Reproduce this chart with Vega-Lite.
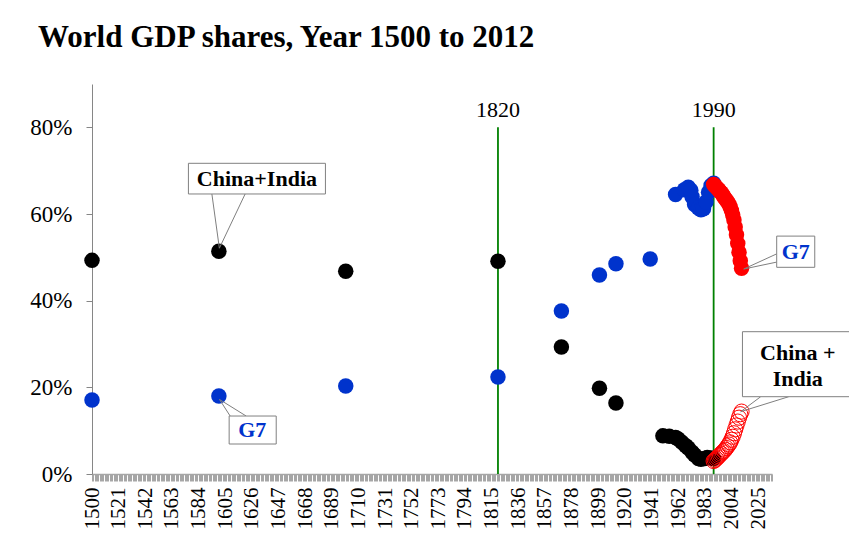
{
  "$schema": "https://vega.github.io/schema/vega-lite/v6.json",
  "width": 680,
  "height": 390,
  "autosize": {"type": "none"},
  "padding": {"left": 92, "top": 84, "right": 77, "bottom": 65},
  "background": "white",
  "view": {"stroke": null},
  "config": {"font": "Times New Roman, Liberation Serif, serif"},
  "title": {
    "text": "World GDP shares, Year 1500 to 2012",
    "anchor": "start",
    "frame": "group",
    "dx": -54,
    "offset": 30,
    "font": "Times New Roman, Liberation Serif, serif",
    "fontSize": 31,
    "fontWeight": "bold",
    "color": "#000000"
  },
  "datasets": {
    "points": [
      {"year": 1500, "share": 0.493, "group": "China+India"},
      {"year": 1600, "share": 0.514, "group": "China+India"},
      {"year": 1700, "share": 0.468, "group": "China+India"},
      {"year": 1820, "share": 0.491, "group": "China+India"},
      {"year": 1870, "share": 0.293, "group": "China+India"},
      {"year": 1900, "share": 0.198, "group": "China+India"},
      {"year": 1913, "share": 0.164, "group": "China+India"},
      {"year": 1950, "share": 0.088, "group": "China+India"},
      {"year": 1955, "share": 0.087, "group": "China+India"},
      {"year": 1960, "share": 0.084, "group": "China+India"},
      {"year": 1962, "share": 0.081, "group": "China+India"},
      {"year": 1965, "share": 0.073, "group": "China+India"},
      {"year": 1968, "share": 0.065, "group": "China+India"},
      {"year": 1970, "share": 0.060, "group": "China+India"},
      {"year": 1973, "share": 0.050, "group": "China+India"},
      {"year": 1975, "share": 0.044, "group": "China+India"},
      {"year": 1978, "share": 0.036, "group": "China+India"},
      {"year": 1980, "share": 0.034, "group": "China+India"},
      {"year": 1983, "share": 0.036, "group": "China+India"},
      {"year": 1985, "share": 0.038, "group": "China+India"},
      {"year": 1988, "share": 0.037, "group": "China+India"},
      {"year": 1990, "share": 0.036, "group": "China+India"},
      {"year": 1500, "share": 0.171, "group": "G7"},
      {"year": 1600, "share": 0.180, "group": "G7"},
      {"year": 1700, "share": 0.203, "group": "G7"},
      {"year": 1820, "share": 0.224, "group": "G7"},
      {"year": 1870, "share": 0.376, "group": "G7"},
      {"year": 1900, "share": 0.459, "group": "G7"},
      {"year": 1913, "share": 0.485, "group": "G7"},
      {"year": 1940, "share": 0.496, "group": "G7"},
      {"year": 1960, "share": 0.645, "group": "G7"},
      {"year": 1967, "share": 0.656, "group": "G7"},
      {"year": 1970, "share": 0.662, "group": "G7"},
      {"year": 1972, "share": 0.655, "group": "G7"},
      {"year": 1973, "share": 0.640, "group": "G7"},
      {"year": 1975, "share": 0.622, "group": "G7"},
      {"year": 1978, "share": 0.614, "group": "G7"},
      {"year": 1980, "share": 0.610, "group": "G7"},
      {"year": 1982, "share": 0.612, "group": "G7"},
      {"year": 1984, "share": 0.628, "group": "G7"},
      {"year": 1986, "share": 0.650, "group": "G7"},
      {"year": 1988, "share": 0.666, "group": "G7"},
      {"year": 1990, "share": 0.671, "group": "G7"},
      {"year": 1990, "share": 0.668, "group": "G7 1990-2012"},
      {"year": 1991, "share": 0.665, "group": "G7 1990-2012"},
      {"year": 1992, "share": 0.662, "group": "G7 1990-2012"},
      {"year": 1993, "share": 0.659, "group": "G7 1990-2012"},
      {"year": 1994, "share": 0.656, "group": "G7 1990-2012"},
      {"year": 1995, "share": 0.652, "group": "G7 1990-2012"},
      {"year": 1996, "share": 0.649, "group": "G7 1990-2012"},
      {"year": 1997, "share": 0.645, "group": "G7 1990-2012"},
      {"year": 1998, "share": 0.640, "group": "G7 1990-2012"},
      {"year": 1999, "share": 0.636, "group": "G7 1990-2012"},
      {"year": 2000, "share": 0.632, "group": "G7 1990-2012"},
      {"year": 2001, "share": 0.628, "group": "G7 1990-2012"},
      {"year": 2002, "share": 0.623, "group": "G7 1990-2012"},
      {"year": 2003, "share": 0.617, "group": "G7 1990-2012"},
      {"year": 2004, "share": 0.608, "group": "G7 1990-2012"},
      {"year": 2005, "share": 0.598, "group": "G7 1990-2012"},
      {"year": 2006, "share": 0.586, "group": "G7 1990-2012"},
      {"year": 2007, "share": 0.570, "group": "G7 1990-2012"},
      {"year": 2008, "share": 0.552, "group": "G7 1990-2012"},
      {"year": 2009, "share": 0.532, "group": "G7 1990-2012"},
      {"year": 2010, "share": 0.512, "group": "G7 1990-2012"},
      {"year": 2011, "share": 0.492, "group": "G7 1990-2012"},
      {"year": 2012, "share": 0.475, "group": "G7 1990-2012"},
      {"year": 1990, "share": 0.030, "group": "China+India 1990-2012"},
      {"year": 1991, "share": 0.032, "group": "China+India 1990-2012"},
      {"year": 1992, "share": 0.035, "group": "China+India 1990-2012"},
      {"year": 1993, "share": 0.038, "group": "China+India 1990-2012"},
      {"year": 1994, "share": 0.041, "group": "China+India 1990-2012"},
      {"year": 1995, "share": 0.044, "group": "China+India 1990-2012"},
      {"year": 1996, "share": 0.047, "group": "China+India 1990-2012"},
      {"year": 1997, "share": 0.050, "group": "China+India 1990-2012"},
      {"year": 1998, "share": 0.053, "group": "China+India 1990-2012"},
      {"year": 1999, "share": 0.056, "group": "China+India 1990-2012"},
      {"year": 2000, "share": 0.060, "group": "China+India 1990-2012"},
      {"year": 2001, "share": 0.064, "group": "China+India 1990-2012"},
      {"year": 2002, "share": 0.068, "group": "China+India 1990-2012"},
      {"year": 2003, "share": 0.073, "group": "China+India 1990-2012"},
      {"year": 2004, "share": 0.079, "group": "China+India 1990-2012"},
      {"year": 2005, "share": 0.086, "group": "China+India 1990-2012"},
      {"year": 2006, "share": 0.094, "group": "China+India 1990-2012"},
      {"year": 2007, "share": 0.103, "group": "China+India 1990-2012"},
      {"year": 2008, "share": 0.112, "group": "China+India 1990-2012"},
      {"year": 2009, "share": 0.121, "group": "China+India 1990-2012"},
      {"year": 2010, "share": 0.130, "group": "China+India 1990-2012"},
      {"year": 2011, "share": 0.138, "group": "China+India 1990-2012"},
      {"year": 2012, "share": 0.144, "group": "China+India 1990-2012"}
    ],
    "markers": [
      {"year": 1820, "top": 0.8, "label": "1820"},
      {"year": 1990, "top": 0.8, "label": "1990"}
    ],
    "boxes": [
      {"x1": 1576, "x2": 1684, "y1": 0.6462, "y2": 0.717},
      {"x1": 1608.1, "x2": 1645.2, "y1": 0.0692, "y2": 0.1338},
      {"x1": 2039.7, "x2": 2069.7, "y1": 0.477, "y2": 0.549},
      {"x1": 2012.7, "x2": 2110, "y1": 0.1784, "y2": 0.3284}
    ],
    "leaders": [
      {"x1": 1600.4, "y1": 0.521, "x2": 1594.5, "y2": 0.6462},
      {"x1": 1600.4, "y1": 0.521, "x2": 1620.7, "y2": 0.6462},
      {"x1": 1600.5, "y1": 0.172, "x2": 1608.9, "y2": 0.1338},
      {"x1": 1600.5, "y1": 0.172, "x2": 1621.5, "y2": 0.1338},
      {"x1": 2013.7, "y1": 0.473, "x2": 2039.7, "y2": 0.508},
      {"x1": 2013.7, "y1": 0.473, "x2": 2039.7, "y2": 0.489},
      {"x1": 2011.3, "y1": 0.1438, "x2": 2027.1, "y2": 0.1784},
      {"x1": 2011.3, "y1": 0.1438, "x2": 2049.2, "y2": 0.1784}
    ],
    "labels": [
      {"year": 1630, "share": 0.681, "text": "China+India", "series": "China+India"},
      {"year": 1626.3, "share": 0.1015, "text": "G7", "series": "G7"},
      {"year": 2054.7, "share": 0.512, "text": "G7", "series": "G7"},
      {"year": 2056.3, "share": 0.28, "text": "China +\nIndia", "series": "China+India"}
    ]
  },
  "layer": [
    {
      "data": {"name": "markers"},
      "mark": {"type": "rule", "color": "#008000", "strokeWidth": 1.8},
      "encoding": {
        "x": {
          "field": "year",
          "type": "quantitative",
          "scale": {"domain": [1500, 2036], "nice": false, "zero": false},
          "axis": {
            "title": null,
            "tickCount": 536,
            "labelExpr": "(datum.value - 1500) % 21 === 0 ? '' + datum.value : ''",
            "labelAngle": -90,
            "labelOverlap": false,
            "labelFlush": false,
            "labelFont": "Times New Roman, Liberation Serif, serif",
            "labelFontSize": 21,
            "labelColor": "#000000",
            "labelPadding": 6,
            "tickColor": "#a6a6a6",
            "tickSize": 7,
            "tickWidth": 1,
            "domainColor": "#a6a6a6",
            "domainWidth": 1.5,
            "grid": false
          }
        },
        "y": {
          "field": "top",
          "type": "quantitative",
          "scale": {"domain": [0, 0.9], "nice": false},
          "axis": {
            "title": null,
            "values": [0, 0.2, 0.4, 0.6, 0.8],
            "format": ".0%",
            "labelFont": "Times New Roman, Liberation Serif, serif",
            "labelFontSize": 23,
            "labelColor": "#000000",
            "labelPadding": 14,
            "tickColor": "#868686",
            "tickSize": 6,
            "domainColor": "#868686",
            "grid": false
          }
        },
        "y2": {"datum": 0}
      }
    },
    {
      "data": {"name": "markers"},
      "mark": {"type": "text", "font": "Times New Roman, Liberation Serif, serif", "fontSize": 22, "baseline": "bottom", "dy": -5, "color": "#000000"},
      "encoding": {
        "x": {"field": "year", "type": "quantitative"},
        "y": {"field": "top", "type": "quantitative"},
        "text": {"field": "label"}
      }
    },
    {
      "data": {"name": "points"},
      "transform": [{"filter": "datum.group !== 'China+India 1990-2012'"}],
      "mark": {"type": "point", "shape": "circle", "filled": true, "size": 240, "opacity": 1},
      "encoding": {
        "x": {"field": "year", "type": "quantitative"},
        "y": {"field": "share", "type": "quantitative"},
        "color": {
          "field": "group",
          "type": "nominal",
          "scale": {
            "domain": ["G7", "China+India", "G7 1990-2012", "China+India 1990-2012"],
            "range": ["#0033cc", "#000000", "#ff0000", "#ff0000"]
          },
          "legend": null
        }
      }
    },
    {
      "data": {"name": "points"},
      "transform": [{"filter": "datum.group === 'China+India 1990-2012'"}],
      "mark": {"type": "point", "shape": "circle", "filled": false, "size": 230, "strokeWidth": 1, "color": "#ff0000", "opacity": 1},
      "encoding": {
        "x": {"field": "year", "type": "quantitative"},
        "y": {"field": "share", "type": "quantitative"}
      }
    },
    {
      "data": {"name": "leaders"},
      "mark": {"type": "rule", "color": "#7f7f7f", "strokeWidth": 1, "clip": false},
      "encoding": {
        "x": {"field": "x1", "type": "quantitative"},
        "y": {"field": "y1", "type": "quantitative"},
        "x2": {"field": "x2"},
        "y2": {"field": "y2"}
      }
    },
    {
      "data": {"name": "boxes"},
      "mark": {"type": "rect", "fill": "#ffffff", "stroke": "#808080", "strokeWidth": 1, "clip": false},
      "encoding": {
        "x": {"field": "x1", "type": "quantitative"},
        "x2": {"field": "x2"},
        "y": {"field": "y1", "type": "quantitative"},
        "y2": {"field": "y2"}
      }
    },
    {
      "data": {"name": "labels"},
      "mark": {"type": "text", "font": "Times New Roman, Liberation Serif, serif", "fontSize": 22, "fontWeight": "bold", "baseline": "middle", "align": "center", "lineBreak": "\n", "lineHeight": 26, "clip": false},
      "encoding": {
        "x": {"field": "year", "type": "quantitative"},
        "y": {"field": "share", "type": "quantitative"},
        "text": {"field": "text"},
        "color": {
          "field": "series",
          "type": "nominal",
          "scale": {"domain": ["G7", "China+India"], "range": ["#0033cc", "#000000"]},
          "legend": null
        }
      }
    }
  ]
}
